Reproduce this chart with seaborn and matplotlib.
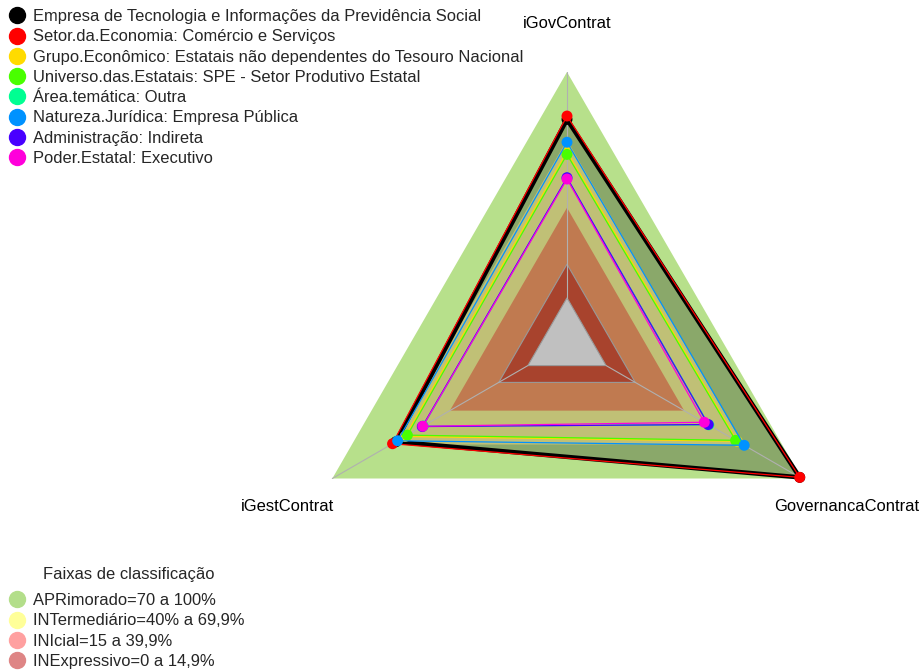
import numpy as np
import pandas as pd
import matplotlib
matplotlib.use("Agg")
import matplotlib.pyplot as plt
import seaborn as sns
from matplotlib.lines import Line2D

sns.set_theme(style="white")
plt.rcParams['font.family'] = ['Liberation Sans', 'DejaVu Sans']

# eixos do radar (ordem anti-horaria a partir do topo)
eixos = ['iGovContrat', 'iGestContrat', 'GovernancaContrat']

series = ['Empresa de Tecnologia e Informações da Previdência Social',
          'Setor.da.Economia: Comércio e Serviços',
          'Grupo.Econômico: Estatais não dependentes do Tesouro Nacional',
          'Universo.das.Estatais: SPE - Setor Produtivo Estatal',
          'Área.temática: Outra',
          'Natureza.Jurídica: Empresa Pública',
          'Administração: Indireta',
          'Poder.Estatal: Executivo']
cores = ['#000000', '#FF0000', '#FFDB00', '#49FF00', '#00FF92', '#0092FF', '#4900FF', '#FF00DB']

# valores em % (iGovContrat, iGestContrat, GovernancaContrat)
v_empresa = [79.0, 67.5, 99.0]
v_setor = [80.5, 69.2, 99.0]
v_grupo = [64.8, 62.8, 67.0]
v_universo = [63.5, 61.6, 66.2]
v_area = [53.0, 53.5, 52.5]
v_natureza = [68.9, 66.6, 70.6]
v_admin = [53.2, 54.0, 52.2]
v_poder = [52.6, 53.7, 50.2]
valores = [v_empresa, v_setor, v_grupo, v_universo, v_area, v_natureza, v_admin, v_poder]

# faixas de classificacao
faixas = ['APRimorado=70 a 100%', 'INTermediário=40% a 69,9%', 'INIcial=15 a 39,9%', 'INExpressivo=0 a 14,9%']
faixas_lim = [100, 69.9, 39.9, 14.9, 0]
faixas_fill = ['#B7E08B', '#C0C076', '#C07A50', '#A8432D', '#C0C0C0']
faixas_leg = ['#B3DE8A', '#FFFF99', '#FFA0A0', '#DE8585']

seg = 5
def raio(v):
    return (1 + seg * np.asarray(v) / 100.0) / (seg + 1)

ang = np.deg2rad([90, 210, 330])

def xy(vals):
    r = raio(vals)
    x = r * np.cos(ang)
    y = r * np.sin(ang)
    return np.append(x, x[0]), np.append(y, y[0])

fig = plt.figure(figsize=(9.2, 6.71), dpi=100)
ax = fig.add_axes([0, 0, 1, 1])
R = 271.0
ax.set_xlim(-567 / R, (920 - 567) / R)
ax.set_ylim(-(671 - 343) / R, 343 / R)
ax.axis('off')

# faixa externa
x, y = xy([faixas_lim[0]] * 3)
ax.fill(x, y, color=faixas_fill[0], lw=0, zorder=1)
# preenchimento da serie principal
x, y = xy(v_empresa)
ax.fill(x, y, color='#8AA86A', lw=0, zorder=2)
for i in range(1, 5):
    x, y = xy([faixas_lim[i]] * 3)
    ec = '#999999' if i >= 3 else 'none'
    ax.fill(x, y, facecolor=faixas_fill[i], edgecolor=ec, lw=0.8, zorder=3 + i)

# eixos radiais
for a in ang:
    ax.plot([raio(0) * np.cos(a), np.cos(a)], [raio(0) * np.sin(a), np.sin(a)],
            color='#B0B0B0', lw=0.8, zorder=9)

# series
for k, (nome, vals, c) in enumerate(zip(series, valores, cores)):
    x, y = xy(vals)
    lw = 3.2 if k == 0 else 0.9
    sns.lineplot(x=x, y=y, sort=False, estimator=None, color=c, lw=lw, ax=ax, zorder=10 + k)
    sns.scatterplot(x=x[:-1], y=y[:-1], color=c, s=62, edgecolor='none', ax=ax, zorder=10 + k)

fs = 11.9

# rotulos dos eixos
for nome, a in zip(eixos, ang):
    ax.text(1.19 * np.cos(a), 1.19 * np.sin(a) - 2.5 / R, nome, ha='center', va='center',
            fontsize=fs, color='black')

h1 = [Line2D([], [], ls='none', marker='o', ms=11.5, color=c) for c in cores]
leg1 = ax.legend(h1, series, loc='upper left', bbox_to_anchor=(7.1 / 920, 1 - 9 / 671),
                 bbox_transform=fig.transFigure, frameon=False, fontsize=fs,
                 handlelength=1.2, handletextpad=0.37, labelspacing=0.32,
                 borderpad=0, borderaxespad=0)
ax.add_artist(leg1)

h2 = [Line2D([], [], ls='none', marker='o', ms=11.5, color=c) for c in faixas_leg]
leg2 = ax.legend(h2, faixas, loc='lower left', bbox_to_anchor=(7.1 / 920, 2 / 671),
                 bbox_transform=fig.transFigure, frameon=False, fontsize=fs,
                 handlelength=1.2, handletextpad=0.37, labelspacing=0.32,
                 borderpad=0, borderaxespad=0)
fig.text(128.5 / 920, 1 - 575 / 671, 'Faixas de classificação', ha='center', va='center', fontsize=fs)

fig.savefig('out.png', dpi=100)
